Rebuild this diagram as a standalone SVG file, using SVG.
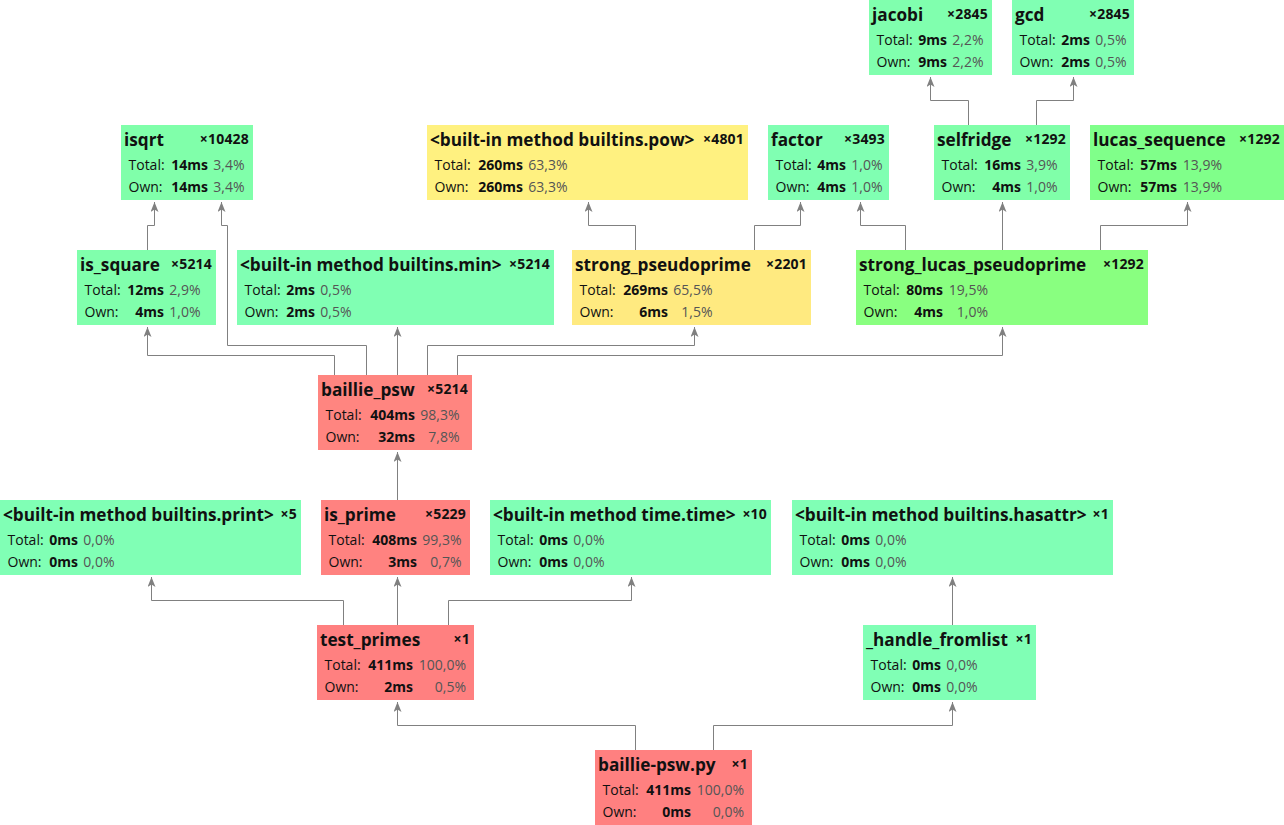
<svg xmlns="http://www.w3.org/2000/svg" width="1284" height="825" viewBox="0 0 1284 825">
  <style>
    text { font-family: "Open Sans", "Liberation Sans", sans-serif; fill: #111; }
    .t { font-size: 17.2px; font-weight: bold; }
    .n { font-size: 14px; font-weight: bold; text-anchor: end; letter-spacing: 0.2px; }
    .l { font-size: 14px; }
    .v { font-size: 14px; font-weight: bold; text-anchor: end; }
    .p { font-size: 14px; fill: #555; text-anchor: end; }
    .edges path { fill: none; stroke: #808080; stroke-width: 1; marker-end: url(#arr); }
  </style>
  <defs>
    <marker id="arr" viewBox="0 0 10 8" refX="10" refY="4" markerWidth="10" markerHeight="8" markerUnits="userSpaceOnUse" orient="auto">
      <path d="M0,0 L10,4 L0,8 L2.5,4 Z" fill="#808080"/>
    </marker>
  </defs>

  <rect width="1284" height="825" fill="#ffffff"/>

  <!-- call edges: caller top -> callee bottom -->
  <g class="edges">
    <path d="M968.5,125 V100.5 H930.5 V77"/>
    <path d="M1036.5,125 V100.5 H1073.5 V77"/>
    <path d="M147.5,250 V225.5 H154.5 V202"/>
    <path d="M366.5,375 V345.5 H227.5 V225.5 H221.5 V202"/>
    <path d="M334.5,375 V355.5 H147.5 V327"/>
    <path d="M397.5,375 V327"/>
    <path d="M427.5,375 V345.5 H694.5 V327"/>
    <path d="M457.5,375 V355.5 H1002.5 V327"/>
    <path d="M635.5,250 V225.5 H588.5 V202"/>
    <path d="M754.5,250 V225.5 H800.5 V202"/>
    <path d="M905.5,250 V225.5 H860.5 V202"/>
    <path d="M1002.5,250 V202"/>
    <path d="M1100.5,250 V225.5 H1187.5 V202"/>
    <path d="M397.5,500 V452"/>
    <path d="M343.5,625 V600.5 H151.5 V577"/>
    <path d="M397.5,625 V577"/>
    <path d="M448.5,625 V600.5 H631.5 V577"/>
    <path d="M952.5,625 V577"/>
    <path d="M635.5,750 V725.5 H397.5 V702"/>
    <path d="M713.5,750 V725.5 H952.5 V702"/>
  </g>

  <g id="jacobi" transform="translate(869,0)">
    <rect width="123" height="75" fill="#80ffae"/>
    <text class="t" x="3" y="21">jacobi</text><text class="n" x="119" y="19">×2845</text>
    <text class="l" x="7.5" y="45">Total:</text><text class="v" x="78" y="45">9ms</text><text class="p" x="114.5" y="45">2,2%</text>
    <text class="l" x="7.5" y="67">Own:</text><text class="v" x="78" y="67">9ms</text><text class="p" x="114.5" y="67">2,2%</text>
  </g>

  <g id="gcd" transform="translate(1012,0)">
    <rect width="122" height="75" fill="#80ffb3"/>
    <text class="t" x="3" y="21">gcd</text><text class="n" x="118" y="19">×2845</text>
    <text class="l" x="7.5" y="45">Total:</text><text class="v" x="78" y="45">2ms</text><text class="p" x="114.5" y="45">0,5%</text>
    <text class="l" x="7.5" y="67">Own:</text><text class="v" x="78" y="67">2ms</text><text class="p" x="114.5" y="67">0,5%</text>
  </g>

  <g id="isqrt" transform="translate(121,125)">
    <rect width="132" height="75" fill="#80ffaa"/>
    <text class="t" x="3" y="21">isqrt</text><text class="n" x="128" y="19">×10428</text>
    <text class="l" x="7.5" y="45">Total:</text><text class="v" x="87" y="45">14ms</text><text class="p" x="123.5" y="45">3,4%</text>
    <text class="l" x="7.5" y="67">Own:</text><text class="v" x="87" y="67">14ms</text><text class="p" x="123.5" y="67">3,4%</text>
  </g>

  <g id="builtins_pow" transform="translate(427,125)">
    <rect width="321" height="75" fill="#fff180"/>
    <text class="t" x="3" y="21">&lt;built-in method builtins.pow&gt;</text><text class="n" x="317" y="19">×4801</text>
    <text class="l" x="7.5" y="45">Total:</text><text class="v" x="96" y="45">260ms</text><text class="p" x="140.5" y="45">63,3%</text>
    <text class="l" x="7.5" y="67">Own:</text><text class="v" x="96" y="67">260ms</text><text class="p" x="140.5" y="67">63,3%</text>
  </g>

  <g id="factor" transform="translate(768,125)">
    <rect width="121" height="75" fill="#80ffb2"/>
    <text class="t" x="3" y="21">factor</text><text class="n" x="117" y="19">×3493</text>
    <text class="l" x="7.5" y="45">Total:</text><text class="v" x="78" y="45">4ms</text><text class="p" x="114.5" y="45">1,0%</text>
    <text class="l" x="7.5" y="67">Own:</text><text class="v" x="78" y="67">4ms</text><text class="p" x="114.5" y="67">1,0%</text>
  </g>

  <g id="selfridge" transform="translate(934,125)">
    <rect width="136" height="75" fill="#80ffa9"/>
    <text class="t" x="3" y="21">selfridge</text><text class="n" x="132" y="19">×1292</text>
    <text class="l" x="7.5" y="45">Total:</text><text class="v" x="87" y="45">16ms</text><text class="p" x="123.5" y="45">3,9%</text>
    <text class="l" x="7.5" y="67">Own:</text><text class="v" x="87" y="67">4ms</text><text class="p" x="123.5" y="67">1,0%</text>
  </g>

  <g id="lucas_sequence" transform="translate(1090,125)">
    <rect width="194" height="75" fill="#80ff8a"/>
    <text class="t" x="3" y="21">lucas_sequence</text><text class="n" x="190" y="19">×1292</text>
    <text class="l" x="7.5" y="45">Total:</text><text class="v" x="87" y="45">57ms</text><text class="p" x="132" y="45">13,9%</text>
    <text class="l" x="7.5" y="67">Own:</text><text class="v" x="87" y="67">57ms</text><text class="p" x="132" y="67">13,9%</text>
  </g>

  <g id="is_square" transform="translate(77,250)">
    <rect width="139" height="75" fill="#80ffac"/>
    <text class="t" x="3" y="21">is_square</text><text class="n" x="135" y="19">×5214</text>
    <text class="l" x="7.5" y="45">Total:</text><text class="v" x="87" y="45">12ms</text><text class="p" x="123.5" y="45">2,9%</text>
    <text class="l" x="7.5" y="67">Own:</text><text class="v" x="87" y="67">4ms</text><text class="p" x="123.5" y="67">1,0%</text>
  </g>

  <g id="builtins_min" transform="translate(237,250)">
    <rect width="317" height="75" fill="#80ffb3"/>
    <text class="t" x="3" y="21">&lt;built-in method builtins.min&gt;</text><text class="n" x="313" y="19">×5214</text>
    <text class="l" x="7.5" y="45">Total:</text><text class="v" x="78" y="45">2ms</text><text class="p" x="114.5" y="45">0,5%</text>
    <text class="l" x="7.5" y="67">Own:</text><text class="v" x="78" y="67">2ms</text><text class="p" x="114.5" y="67">0,5%</text>
  </g>

  <g id="strong_pseudoprime" transform="translate(572,250)">
    <rect width="239" height="75" fill="#ffea80"/>
    <text class="t" x="3" y="21">strong_pseudoprime</text><text class="n" x="235" y="19">×2201</text>
    <text class="l" x="7.5" y="45">Total:</text><text class="v" x="96" y="45">269ms</text><text class="p" x="140.5" y="45">65,5%</text>
    <text class="l" x="7.5" y="67">Own:</text><text class="v" x="96" y="67">6ms</text><text class="p" x="140.5" y="67">1,5%</text>
  </g>

  <g id="strong_lucas_pseudoprime" transform="translate(856,250)">
    <rect width="292" height="75" fill="#89ff80"/>
    <text class="t" x="3" y="21">strong_lucas_pseudoprime</text><text class="n" x="288" y="19">×1292</text>
    <text class="l" x="7.5" y="45">Total:</text><text class="v" x="87" y="45">80ms</text><text class="p" x="132" y="45">19,5%</text>
    <text class="l" x="7.5" y="67">Own:</text><text class="v" x="87" y="67">4ms</text><text class="p" x="132" y="67">1,0%</text>
  </g>

  <g id="baillie_psw" transform="translate(318,375)">
    <rect width="154" height="75" fill="#ff8580"/>
    <text class="t" x="3" y="21">baillie_psw</text><text class="n" x="150" y="19">×5214</text>
    <text class="l" x="7.5" y="45">Total:</text><text class="v" x="97" y="45">404ms</text><text class="p" x="141.5" y="45">98,3%</text>
    <text class="l" x="7.5" y="67">Own:</text><text class="v" x="97" y="67">32ms</text><text class="p" x="141.5" y="67">7,8%</text>
  </g>

  <g id="builtins_print" transform="translate(0,500)">
    <rect width="301" height="75" fill="#80ffb5"/>
    <text class="t" x="3" y="21">&lt;built-in method builtins.print&gt;</text><text class="n" x="297" y="19">×5</text>
    <text class="l" x="7.5" y="45">Total:</text><text class="v" x="78" y="45">0ms</text><text class="p" x="114.5" y="45">0,0%</text>
    <text class="l" x="7.5" y="67">Own:</text><text class="v" x="78" y="67">0ms</text><text class="p" x="114.5" y="67">0,0%</text>
  </g>

  <g id="is_prime" transform="translate(321,500)">
    <rect width="149" height="75" fill="#ff8280"/>
    <text class="t" x="3" y="21">is_prime</text><text class="n" x="145" y="19">×5229</text>
    <text class="l" x="7.5" y="45">Total:</text><text class="v" x="96" y="45">408ms</text><text class="p" x="140.5" y="45">99,3%</text>
    <text class="l" x="7.5" y="67">Own:</text><text class="v" x="96" y="67">3ms</text><text class="p" x="140.5" y="67">0,7%</text>
  </g>

  <g id="time_time" transform="translate(490,500)">
    <rect width="281" height="75" fill="#80ffb5"/>
    <text class="t" x="3" y="21">&lt;built-in method time.time&gt;</text><text class="n" x="277" y="19">×10</text>
    <text class="l" x="7.5" y="45">Total:</text><text class="v" x="78" y="45">0ms</text><text class="p" x="114.5" y="45">0,0%</text>
    <text class="l" x="7.5" y="67">Own:</text><text class="v" x="78" y="67">0ms</text><text class="p" x="114.5" y="67">0,0%</text>
  </g>

  <g id="builtins_hasattr" transform="translate(792,500)">
    <rect width="321" height="75" fill="#80ffb5"/>
    <text class="t" x="3" y="21">&lt;built-in method builtins.hasattr&gt;</text><text class="n" x="317" y="19">×1</text>
    <text class="l" x="7.5" y="45">Total:</text><text class="v" x="78" y="45">0ms</text><text class="p" x="114.5" y="45">0,0%</text>
    <text class="l" x="7.5" y="67">Own:</text><text class="v" x="78" y="67">0ms</text><text class="p" x="114.5" y="67">0,0%</text>
  </g>

  <g id="test_primes" transform="translate(317,625)">
    <rect width="157" height="75" fill="#ff8080"/>
    <text class="t" x="3" y="21">test_primes</text><text class="n" x="153" y="19">×1</text>
    <text class="l" x="7.5" y="45">Total:</text><text class="v" x="96" y="45">411ms</text><text class="p" x="149" y="45">100,0%</text>
    <text class="l" x="7.5" y="67">Own:</text><text class="v" x="96" y="67">2ms</text><text class="p" x="149" y="67">0,5%</text>
  </g>

  <g id="handle_fromlist" transform="translate(863,625)">
    <rect width="173" height="75" fill="#80ffb5"/>
    <text class="t" x="3" y="21">_handle_fromlist</text><text class="n" x="169" y="19">×1</text>
    <text class="l" x="7.5" y="45">Total:</text><text class="v" x="78" y="45">0ms</text><text class="p" x="114.5" y="45">0,0%</text>
    <text class="l" x="7.5" y="67">Own:</text><text class="v" x="78" y="67">0ms</text><text class="p" x="114.5" y="67">0,0%</text>
  </g>

  <g id="baillie_psw_py" transform="translate(595,750)">
    <rect width="157" height="75" fill="#ff8080"/>
    <text class="t" x="3" y="21">baillie-psw.py</text><text class="n" x="153" y="19">×1</text>
    <text class="l" x="7.5" y="45">Total:</text><text class="v" x="96" y="45">411ms</text><text class="p" x="149" y="45">100,0%</text>
    <text class="l" x="7.5" y="67">Own:</text><text class="v" x="96" y="67">0ms</text><text class="p" x="149" y="67">0,0%</text>
  </g>
</svg>
